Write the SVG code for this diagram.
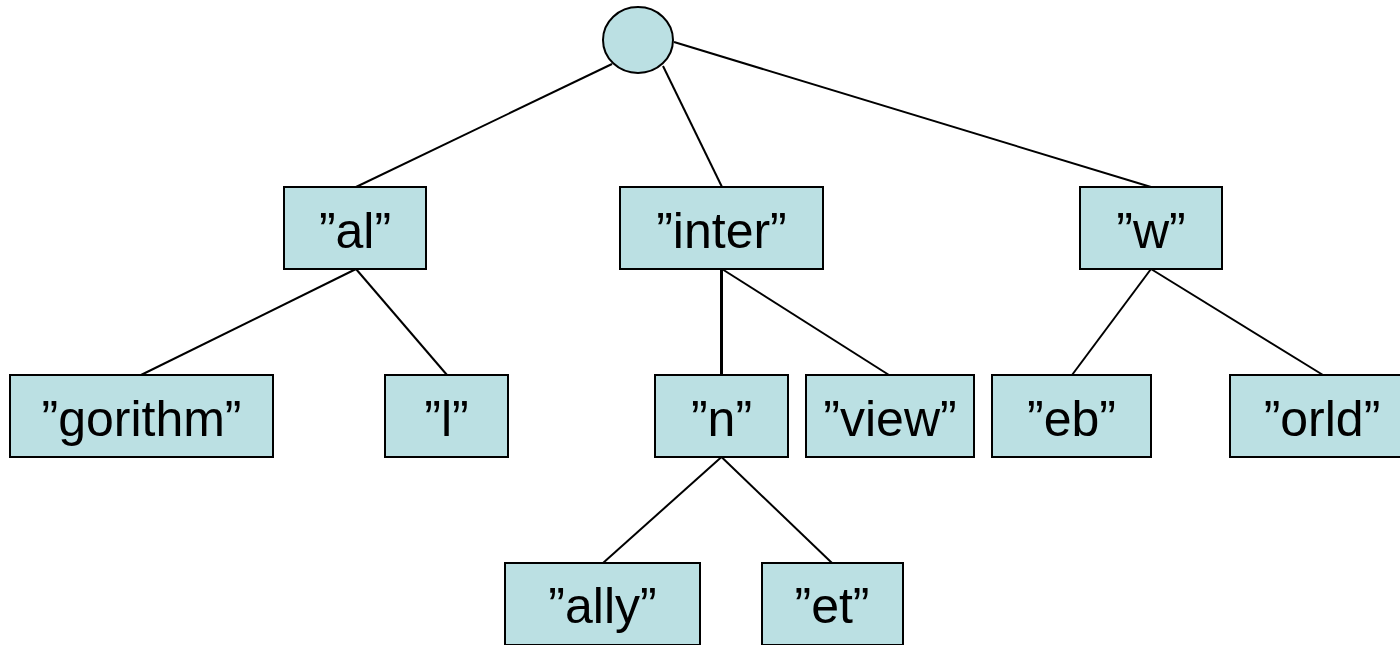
<svg xmlns="http://www.w3.org/2000/svg" width="1400" height="645" viewBox="0 0 1400 645">
<style>
.box{fill:#BBE0E3;stroke:#000;stroke-width:2}
.lbl{font-family:"Liberation Sans",Arial,sans-serif;font-size:50px;fill:#000;text-anchor:middle}
.edge{stroke:#000;stroke-width:2;fill:none}
</style>
<rect width="1400" height="645" fill="#fff"/>
<g id="connectors">
<line class="edge" x1="612" y1="64" x2="356" y2="187"/>
<line class="edge" x1="663" y1="66" x2="722" y2="187"/>
<line class="edge" x1="674" y1="42" x2="1151" y2="187"/>
<line class="edge" x1="356" y1="269" x2="141" y2="375"/>
<line class="edge" x1="356" y1="269" x2="447" y2="375"/>
<line class="edge" x1="721.5" y1="269" x2="721.5" y2="375" style="stroke-width:3"/>
<line class="edge" x1="722" y1="269" x2="889" y2="375"/>
<line class="edge" x1="1151" y1="269" x2="1072" y2="375"/>
<line class="edge" x1="1151" y1="269" x2="1323" y2="375"/>
<line class="edge" x1="721.5" y1="457" x2="603" y2="563"/>
<line class="edge" x1="721.5" y1="457" x2="832" y2="563"/>
</g>
<g id="root"><ellipse class="box" cx="638" cy="40" rx="35" ry="33"/></g>
<g id="n-al"><rect class="box" x="284" y="187" width="142" height="82"/><text class="lbl" x="355" y="248">”al”</text></g>
<g id="n-inter"><rect class="box" x="620" y="187" width="203" height="82"/><text class="lbl" x="721.5" y="248">”inter”</text></g>
<g id="n-w"><rect class="box" x="1080" y="187" width="142" height="82"/><text class="lbl" x="1151" y="248">”w”</text></g>
<g id="n-gorithm"><rect class="box" x="10" y="375" width="263" height="82"/><text class="lbl" x="141.5" y="436">”gorithm”</text></g>
<g id="n-l"><rect class="box" x="385" y="375" width="123" height="82"/><text class="lbl" x="446.5" y="436">”l”</text></g>
<g id="n-n"><rect class="box" x="655" y="375" width="133" height="82"/><text class="lbl" x="721.5" y="436">”n”</text></g>
<g id="n-view"><rect class="box" x="806" y="375" width="168" height="82"/><text class="lbl" x="890" y="436">”view”</text></g>
<g id="n-eb"><rect class="box" x="992" y="375" width="159" height="82"/><text class="lbl" x="1071.5" y="436">”eb”</text></g>
<g id="n-orld"><rect class="box" x="1230" y="375" width="186" height="82"/><text class="lbl" x="1322" y="436">”orld”</text></g>
<g id="n-ally"><rect class="box" x="505" y="563" width="195" height="82"/><text class="lbl" x="602.5" y="623">”ally”</text></g>
<g id="n-et"><rect class="box" x="762" y="563" width="141" height="82"/><text class="lbl" x="832" y="623">”et”</text></g>
</svg>
